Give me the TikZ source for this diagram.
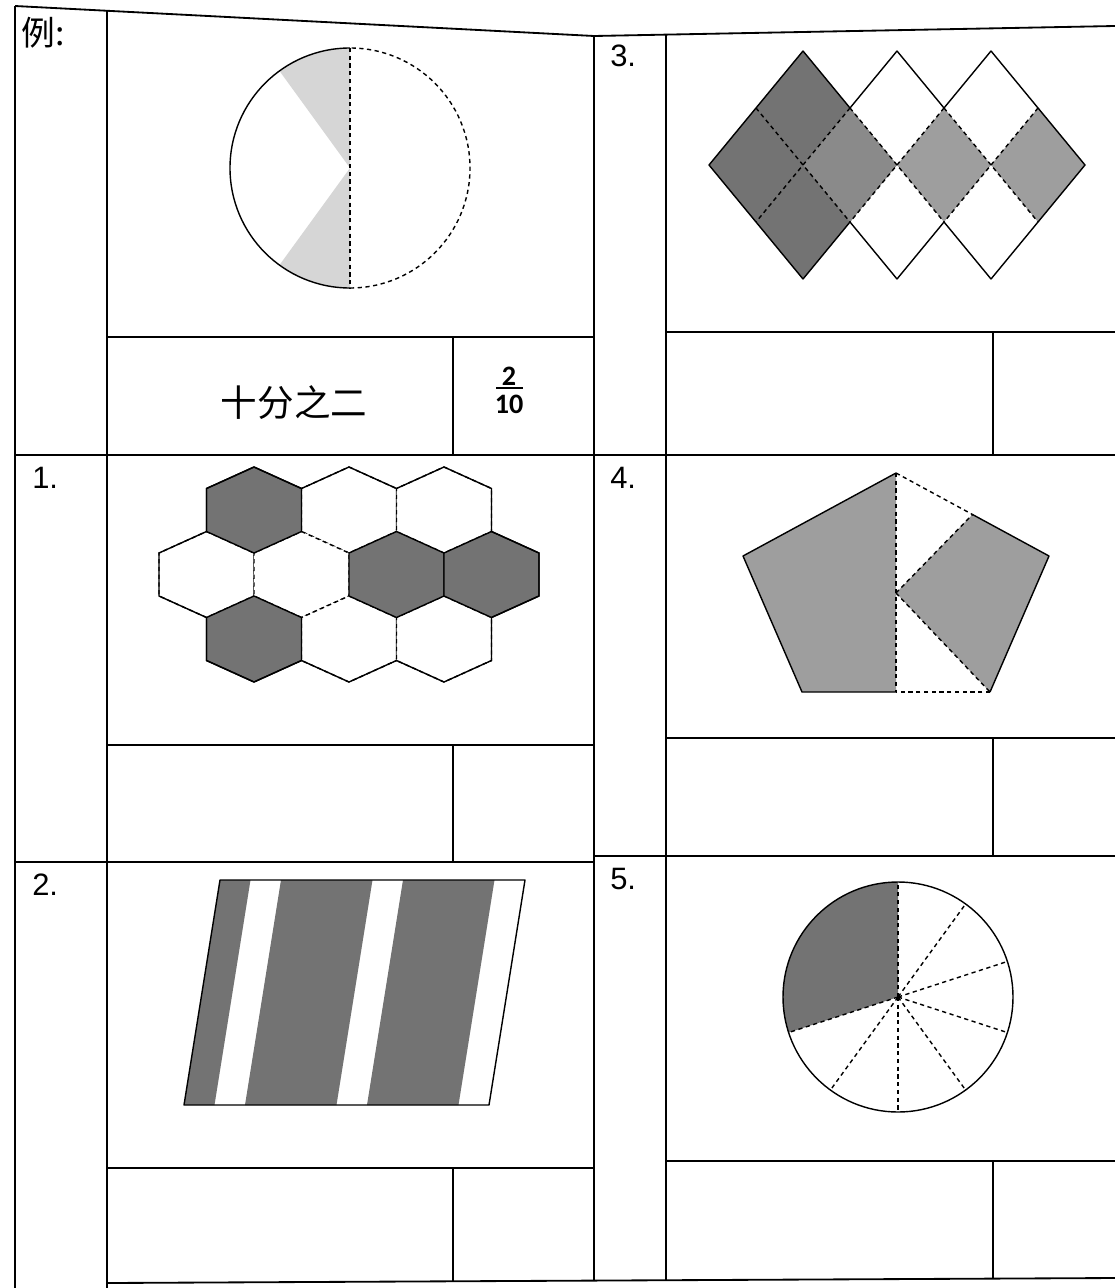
\documentclass[tikz,border=0pt]{standalone}
\usepackage{fontspec}
\setmainfont{Liberation Sans}
\newfontfamily\cjkfont{Noto Sans CJK SC}
\newfontfamily\fracfont{Carlito}

\tikzset{
  grid line/.style={line width=1.3pt},
  shape line/.style={line width=1pt, line join=round},
  part line/.style={line width=1pt, dash pattern=on 3pt off 2.5pt},
  dark part/.style={fill=black!55},
  light part/.style={fill=black!38},
  pale part/.style={fill=black!16},
  qlabel/.style={anchor=north west, inner sep=0pt, font=\fontsize{22}{26}\selectfont},
  fraclbl/.style={inner sep=0pt, font=\fracfont\bfseries\fontsize{20}{23}\selectfont},
}
% one pointy-top hexagon cell: centre x, centre y, style
\newcommand{\hexcell}[3]{%
  \path[#3] (#1,#2-43) -- ++(47.5,21.5) -- ++(0,43) -- ++(-47.5,21.5)
    -- ++(-47.5,-21.5) -- ++(0,-43) -- cycle;}

\begin{document}
\begin{tikzpicture}[x=0.025cm, y=-0.025cm]
\useasboundingbox (0,0) rectangle (1115,1288);
\fill[white] (0,0) rectangle (1115,1288);

% table frame
\draw[grid line] (15,6) -- (594,36) -- (1115,26);
\draw[grid line] (15,6) -- (15,1288);
\draw[grid line] (107,11) -- (107,1288);
\draw[grid line] (594,36) -- (594,1281);
\draw[grid line] (666,35) -- (666,1280);
\draw[grid line] (107,1283) -- (1115,1278);
\draw[grid line] (15,455) -- (1115,455);
\draw[grid line] (15,862) -- (594,862);
\draw[grid line] (594,856) -- (1115,856);
% answer rows
\foreach \ya/\yb in {337/455, 745/862, 1168/1282} {
  \draw[grid line] (107,\ya) -- (594,\ya);
  \draw[grid line] (453,\ya) -- (453,\yb);
}
\foreach \ya/\yb in {332/455, 738/856, 1161/1279} {
  \draw[grid line] (666,\ya) -- (1115,\ya);
  \draw[grid line] (993,\ya) -- (993,\yb);
}

% labels
\node[qlabel, anchor=base west, font=\cjkfont\fontsize{24}{28}\selectfont] (ex-lbl) at (21,46) {例:};
\node[qlabel] (q1-lbl) at (32,467) {1.};
\node[qlabel] (q2-lbl) at (32,874) {2.};
\node[qlabel] (q3-lbl) at (610,45) {3.};
\node[qlabel] (q4-lbl) at (610,467) {4.};
\node[qlabel] (q5-lbl) at (610,868) {5.};

% example answer
\node[font=\cjkfont\fontsize{26}{30}\selectfont] (ex-words) at (294,403) {十分之二};
\node[fraclbl] (ex-num) at (509,376) {2};
\node[fraclbl] (ex-den) at (509,404) {10};
\draw[line width=1.3pt] (496,388) -- (523,388);

% example: circle in tenths
\begin{scope}[shift={(350,168)}, y=0.025cm]
  \fill[pale part] (0,0) -- (90:120) arc[start angle=90, end angle=126, radius=120] -- cycle;
  \fill[pale part] (0,0) -- (234:120) arc[start angle=234, end angle=270, radius=120] -- cycle;
  \draw[part line] (0,120) -- (0,-120);
  \draw[shape line] (90:120) arc[start angle=90, end angle=270, radius=120];
  \draw[part line] (-90:120) arc[start angle=-90, end angle=90, radius=120];
\end{scope}

% 1: hexagons
\foreach \cx/\cy in {349/510, 444/510, 206.5/574.5, 301.5/574.5, 349/639, 444/639}
  \hexcell{\cx}{\cy}{draw, fill=white, part line};
\foreach \cx/\cy in {254/510, 254/639, 396.5/574.5, 491.5/574.5}
  \hexcell{\cx}{\cy}{draw, dark part, shape line};
\draw[shape line] (254,467) -- (301.5,488.5) -- (349,467) -- (396.5,488.5) -- (444,467)
  -- (491.5,488.5) -- (491.5,531.5) -- (539,553) -- (539,596) -- (491.5,617.5)
  -- (491.5,660.5) -- (444,682) -- (396.5,660.5) -- (349,682) -- (301.5,660.5)
  -- (254,682) -- (206.5,660.5) -- (206.5,617.5) -- (159,596) -- (159,553)
  -- (206.5,531.5) -- (206.5,488.5) -- cycle;

% 2: parallelogram in ten strips
\foreach \i/\j in {0/1, 2/5, 6/9}
  \fill[dark part] ({220+30.5*\i},880) -- ({220+30.5*\j},880)
    -- ({184+30.5*\j},1105) -- ({184+30.5*\i},1105) -- cycle;
\draw[shape line] (220,880) -- (525,880) -- (489,1105) -- (184,1105) -- cycle;

% 3: three overlapping diamonds
\fill[dark part] (709,165) -- (803,51) -- (897,165) -- (803,279) -- cycle;
\fill[black!46] (803,165) -- (850,108) -- (897,165) -- (850,222) -- cycle;
\fill[light part] (897,165) -- (944,108) -- (991,165) -- (944,222) -- cycle;
\fill[light part] (991,165) -- (1038,108) -- (1085,165) -- (1038,222) -- cycle;
\foreach \cx in {803,897,991} {
  \draw[part line] (\cx-47,108) -- (\cx+47,222);
  \draw[part line] (\cx+47,108) -- (\cx-47,222);
}
\draw[shape line] (709,165) -- (803,51) -- (850,108) -- (897,51) -- (944,108) -- (991,51)
  -- (1085,165) -- (991,279) -- (944,222) -- (897,279) -- (850,222) -- (803,279) -- cycle;

% 4: pentagon
\fill[light part] (896,473) -- (743,556) -- (802,692) -- (896,692) -- cycle;
\fill[light part] (896,593) -- (972.5,514.5) -- (1049,556) -- (990,692) -- cycle;
\draw[part line] (896,473) -- (896,692);
\draw[part line] (896,593) -- (972.5,514.5);
\draw[part line] (896,593) -- (990,692);
\draw[shape line] (972.5,514.5) -- (1049,556) -- (990,692);
\draw[shape line] (896,692) -- (802,692) -- (743,556) -- (896,473);
\draw[part line] (896,473) -- (972.5,514.5);
\draw[part line] (990,692) -- (896,692);

% 5: circle in tenths
\begin{scope}[shift={(898,997)}, y=0.025cm]
  \fill[dark part] (0,0) -- (90:115) arc[start angle=90, end angle=198, radius=115] -- cycle;
  \foreach \a in {18,54,90,198,234,270,306,342}
    \draw[part line] (0,0) -- (\a:115);
  \draw[shape line] (0,0) circle[radius=115];
\end{scope}
\end{tikzpicture}
\end{document}
